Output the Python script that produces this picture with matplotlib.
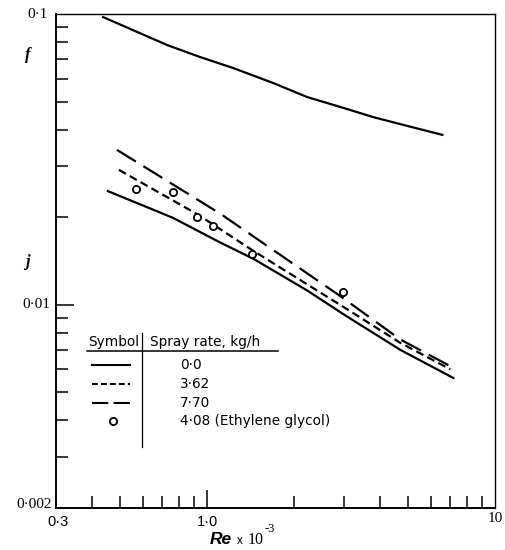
"""
Friction factor f and Colburn j factor against Reynolds number,
with water spray at several rates and one ethylene glycol run.
"""
import numpy as np
import matplotlib
matplotlib.use("Agg")
import matplotlib.pyplot as plt
from matplotlib.lines import Line2D
from matplotlib.ticker import FixedLocator, NullFormatter

# Re x 10^-3 against f (dry coil)
F_RE = [0.437, 0.729, 0.949, 1.235, 1.70, 2.231, 2.906, 3.78, 4.97, 6.57]
F_VAL = [0.0976, 0.0782, 0.0711, 0.0652, 0.0579, 0.0518, 0.0479,
         0.0442, 0.0412, 0.0384]

# j factor, spray rate 0.0 kg/h
J0_RE = [0.454, 0.764, 1.11, 1.45, 2.23, 3.02, 4.69, 7.17]
J0_VAL = [0.0246, 0.0199, 0.0164, 0.0144, 0.0112, 0.0092, 0.0070, 0.0056]

# j factor, spray rate 3.62 kg/h
J362_RE = [0.496, 0.934, 1.44, 3.02, 4.69, 7.00]
J362_VAL = [0.0291, 0.0204, 0.0154, 0.00975, 0.0074, 0.0060]

# j factor, spray rate 7.70 kg/h
J770_RE = [0.488, 1.12, 2.91, 4.69, 6.89]
J770_VAL = [0.0341, 0.0205, 0.0107, 0.0076, 0.0062]

# measured points, ethylene glycol at 4.08 kg/h
EG_RE = [0.569, 0.766, 0.928, 1.05, 1.434, 2.98]
EG_VAL = [0.0250, 0.0245, 0.0201, 0.0186, 0.0150, 0.0111]

LEGEND_RATES = ["0\u00b70", "3\u00b762", "7\u00b770", "4\u00b708 (Ethylene glycol)"]

W, H = 505, 550
SANS = "Liberation Sans"
TABLE = "DejaVu Sans"
SERIF = "Liberation Serif"

SOLID = "-"
SHORT_DASH = (0, (3.6, 2.0))
LONG_DASH = (0, (10.0, 4.0))
LW = 1.6


def px(x, y):
    """Pixel position (from top-left) -> figure fraction."""
    return x / W, 1 - y / H


fig = plt.figure(figsize=(W / 100, H / 100), dpi=100)
fig.patch.set_facecolor("white")
l, b = px(56, 508)
r, t = px(495, 14)
ax = fig.add_axes([l, b, r - l, t - b])

ax.set_xscale("log")
ax.set_yscale("log")
ax.set_xlim(0.3, 10)
ax.set_ylim(0.002, 0.1)

ax.plot(F_RE, F_VAL, color="black", lw=LW, ls=SOLID)
ax.plot(J0_RE, J0_VAL, color="black", lw=LW, ls=SOLID)
ax.plot(J362_RE, J362_VAL, color="black", lw=LW, ls=SHORT_DASH)
ax.plot(J770_RE, J770_VAL, color="black", lw=LW, ls=LONG_DASH)
ax.plot(EG_RE, EG_VAL, ls="none", marker="o", ms=5.2, mfc="white",
        mec="black", mew=1.3, zorder=5)

# ticks: inward, bottom and left only
x_minor = [0.4, 0.5, 0.6, 0.7, 0.8, 0.9, 2, 3, 4, 5, 6, 7, 8, 9]
y_minor = [0.003, 0.004, 0.005, 0.006, 0.007, 0.008, 0.009,
           0.02, 0.03, 0.04, 0.05, 0.06, 0.07, 0.08, 0.09]
ax.xaxis.set_major_locator(FixedLocator([1.0]))
ax.xaxis.set_minor_locator(FixedLocator(x_minor))
ax.yaxis.set_major_locator(FixedLocator([0.01]))
ax.yaxis.set_minor_locator(FixedLocator(y_minor))
ax.xaxis.set_major_formatter(NullFormatter())
ax.xaxis.set_minor_formatter(NullFormatter())
ax.yaxis.set_major_formatter(NullFormatter())
ax.yaxis.set_minor_formatter(NullFormatter())
ax.tick_params(which="both", direction="in", top=False, right=False,
               width=1.1, color="black")
ax.tick_params(which="major", length=13)
ax.tick_params(which="minor", length=8.5)
for side, sp in ax.spines.items():
    sp.set_linewidth(1.4 if side in ("left", "bottom") else 1.0)

# axis numbers
fig.text(*px(48, 14), "0\u00b71", family=SERIF, fontsize=11, ha="right", va="center")
fig.text(*px(50, 305), "0\u00b701", family=SERIF, fontsize=11, ha="right", va="center")
fig.text(*px(52, 504), "0\u00b7002", family=SERIF, fontsize=11, ha="right", va="center")
fig.text(*px(58, 522), "0\u00b73", family=SANS, fontsize=10.5, ha="center", va="center")
fig.text(*px(207, 522), "1\u00b70", family=SANS, fontsize=10.5, ha="center", va="center")
fig.text(*px(495, 519), "10", family=SERIF, fontsize=11, ha="center", va="center")

fig.text(*px(28, 55), "f", family=SERIF, fontsize=12, style="italic",
         weight="bold", ha="center", va="center")
fig.text(*px(27, 262), "j", family=SERIF, fontsize=12, style="italic",
         weight="bold", ha="center", va="center")

fig.text(*px(221, 540), "Re", family=SANS, fontsize=12.5, style="italic",
         weight="bold", ha="center", va="center")
fig.text(*px(240, 541), "x", family=SANS, fontsize=8.5, ha="center", va="center")
fig.text(*px(256, 540), "10", family=SERIF, fontsize=11.5, ha="center", va="center")
fig.text(*px(270, 529), "-3", family=SERIF, fontsize=9, ha="center", va="center")

# legend table
fig.text(*px(88, 342), "Symbol", family=TABLE, fontsize=9.8, ha="left", va="center")
fig.text(*px(150, 342), "Spray rate, kg/h", family=TABLE, fontsize=9.8,
         ha="left", va="center")
x0, y0 = px(87, 351)
x1, _ = px(278, 351)
fig.add_artist(Line2D([x0, x1], [y0, y0], color="black", lw=1.1))
vx, vy0 = px(142, 333)
_, vy1 = px(142, 447)
fig.add_artist(Line2D([vx, vx], [vy0, vy1], color="black", lw=0.9))

row_y = [365, 384, 403, 421]
row_styles = [SOLID, (0, (2.8, 1.5)), (0, (7.8, 2.6)), None]
for yy, lab, st in zip(row_y, LEGEND_RATES, row_styles):
    if st is None:
        mx, my = px(113, yy)
        fig.add_artist(Line2D([mx], [my], ls="none", marker="o", ms=5.2,
                              mfc="white", mec="black", mew=1.3))
    else:
        a, c = px(92, yy)
        e, _ = px(130, yy)
        fig.add_artist(Line2D([a, e], [c, c], color="black", lw=1.5, ls=st))
    fig.text(*px(180, yy), lab, family=TABLE, fontsize=9.8, ha="left", va="center")

fig.savefig("out.png", dpi=100, facecolor="white")
